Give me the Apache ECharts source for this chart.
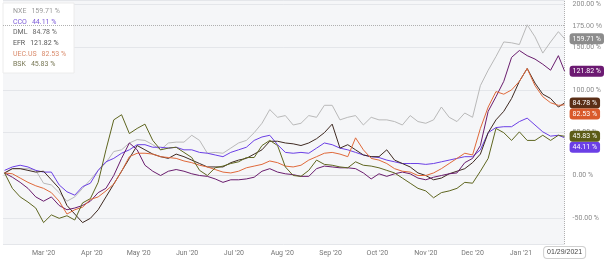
<!DOCTYPE html>
<html><head><meta charset="utf-8">
<script src="https://cdn.jsdelivr.net/npm/echarts@6/dist/echarts.min.js"></script>
<style>html,body{margin:0;padding:0;background:#fff}#c{width:604px;height:263px}</style>
</head><body><div id="c"></div>
<script>
const dates = ['2020-02-05','2020-02-10','2020-02-15','2020-02-20','2020-02-25','2020-03-01','2020-03-06','2020-03-11','2020-03-16','2020-03-21','2020-03-26','2020-03-31','2020-04-05','2020-04-10','2020-04-15','2020-04-20','2020-04-25','2020-04-30','2020-05-05','2020-05-10','2020-05-15','2020-05-20','2020-05-25','2020-05-30','2020-06-04','2020-06-09','2020-06-14','2020-06-19','2020-06-24','2020-06-29','2020-07-04','2020-07-09','2020-07-14','2020-07-19','2020-07-24','2020-07-29','2020-08-03','2020-08-08','2020-08-13','2020-08-18','2020-08-23','2020-08-28','2020-09-02','2020-09-07','2020-09-12','2020-09-17','2020-09-22','2020-09-27','2020-10-02','2020-10-07','2020-10-12','2020-10-17','2020-10-22','2020-10-27','2020-11-01','2020-11-06','2020-11-11','2020-11-16','2020-11-21','2020-11-26','2020-12-01','2020-12-06','2020-12-11','2020-12-16','2020-12-21','2020-12-26','2020-12-31','2021-01-05','2021-01-10','2021-01-15','2021-01-20','2021-01-25','2021-01-29'];
const NXE = [3,8,8,8,6,-9,-11,-20,-30,-25,-15,-5,6,15,28,30,38,42,41,36,30,38,39,39,47,41,26,27,26,32,38,41,50,61,77,68,70,59,61,70,68,82,82,65,68,70,59,68,65,65,63,59,70,63,61,65,80,68,63,73,68,105,123,139,156,155,153,176,162,143,156,168,159.71];
const CCO = [6,10,12,10,6,4,4,-11,-19,-23,-13,-9,6,16,20,26,30,36,36,33,33,32,33,30,30,27,26,24,22,27,30,33,41,45,47,36,27,26,27,26,32,38,36,32,30,27,24,22,21,18,16,14,14,14,13,14,16,18,20,22,22,30,50,56,57,57,63,67,59,51,46,47,44.11];
const DML = [3,8,8,6,4,5,-5,-15,-35,-45,-55,-50,-40,-25,-10,5,20,35,30,25,22,20,25,22,18,14,10,10,10,15,18,20,25,30,40,40,38,37,35,38,43,50,60,32,36,30,24,22,22,30,18,14,10,3,0,-5,-3,2,5,8,15,25,50,65,75,90,110,125,108,95,90,80,84.78];
const EFR = [3,-2,-8,-15,-25,-30,-25,-35,-40,-38,-35,-30,-20,-15,0,20,38,30,12,5,0,5,7,5,2,0,-1,-4,-8,-5,-5,-4,-2,5,8,4,2,1,-1,-1,8,11,10,9,9,8,3,-4,2,-1,2,4,2,-3,-5,-2,0,2,3,15,20,35,75,92,110,138,146,140,136,130,123,140,121.82];
const UEC = [3,2,-3,-8,-12,-15,-20,-30,-45,-40,-37,-28,-25,-18,-10,5,22,26,26,25,22,21,20,17,15,12,10,7,4,3,5,9,11,13,17,15,11,10,12,18,22,26,27,25,22,44,30,20,18,14,8,5,4,0,0,3,8,14,20,26,24,55,80,98,95,100,110,125,105,92,85,82,82.53];
const BSK = [3,-15,-25,-31,-38,-55,-46,-50,-47,-52,-32,-27,-8,30,65,71,49,55,60,41,30,32,33,27,21,6,0,9,11,14,16,21,21,35,41,35,10,0,-1,6,18,13,12,10,9,16,12,11,9,6,3,-3,-9,-15,-18,-26,-20,-18,-15,-8,-9,5,20,55,50,41,51,41,41,47,41,47,45.83];
const seriesNames = ['NXE','CCO','DML','EFR','UEC.US','BSK'];
const seriesValues = [NXE, CCO, DML, EFR, UEC, BSK];
const lineColors = ['#b9b9b9','#6b3fe6','#3f2a22','#6a1d6e','#e0693a','#5f6620'];
const badgeColors = ['#8c8c8c','#6b3fe6','#5a2e16','#6c1a72','#d95a2b','#5c5c17'];
const legendColors = ['#9a9a9a','#7b5ad8','#666666','#555555','#d98a6a','#777755'];
const monthNames = ['Jan','Feb','Mar','Apr','May','Jun','Jul','Aug','Sep','Oct','Nov','Dec'];
const lastValues = seriesValues.map(a => a[a.length - 1]);

const chart = echarts.init(document.getElementById('c'), null, {renderer: 'canvas'});
const fmtPct = v => v.toFixed(2) + ' %';
const option = {
  animation: false,
  backgroundColor: '#ffffff',
  grid: {left: 3, right: 34, top: 0, bottom: 19, show: true, backgroundColor: '#f5f6f8', borderWidth: 0},
  legend: {
    orient: 'vertical', left: 3, top: 3, icon: 'none', itemWidth: 0, itemHeight: 6, itemGap: 3.6,
    backgroundColor: '#ffffff', borderColor: '#ececec', borderWidth: 1, padding: [5, 8, 5, 5],
    data: seriesNames.map((n, i) => ({name: n, textStyle: {color: legendColors[i]}})),
    formatter: name => {
      const i = seriesNames.indexOf(name);
      return '{n|' + name + '}{v|' + fmtPct(lastValues[i]) + '}';
    },
    textStyle: {fontSize: 7, fontFamily: 'Roboto', rich: {n: {fontSize: 7, padding: [0, 5, 0, 0]}, v: {fontSize: 7}}}
  },
  xAxis: {
    type: 'time', min: '2020-02-04', max: '2021-01-29', splitNumber: 12,
    axisLine: {show: true, lineStyle: {color: '#dcdcdc'}},
    axisTick: {show: false},
    splitLine: {show: false},
    axisLabel: {fontSize: 7, color: '#777', fontFamily: 'Roboto', margin: 6, hideOverlap: false,
      formatter: v => { const d = new Date(v); return monthNames[d.getMonth()] + " '" + String(d.getFullYear()).slice(2); }},
    axisPointer: {show: true, value: new Date('2021-01-29T00:00:00').getTime(), status: 'show', snap: false, triggerTooltip: false,
      lineStyle: {type: 'dotted', color: '#b0b0b0', width: 1},
      label: {show: true, fontSize: 7, color: '#444', backgroundColor: '#ffffff', borderColor: '#cfcfcf', borderWidth: 1, padding: [2, 3], margin: 3,
        formatter: p => { const d = new Date(p.value); return String(d.getMonth()+1).padStart(2,'0') + '/' + String(d.getDate()).padStart(2,'0') + '/' + d.getFullYear(); }}}
  },
  yAxis: {
    type: 'value', position: 'right', min: -80, max: 205, splitNumber: 6,
    axisLine: {show: false}, axisTick: {show: false},
    splitLine: {show: true, lineStyle: {color: '#e4e6ea', width: 1}},
    axisLabel: {fontSize: 7, color: '#8a8a8a', fontFamily: 'Roboto', margin: 8,
      formatter: v => (v % 50 === 0 ? v.toFixed(2) + ' %' : '')},
    axisPointer: {show: true, value: 175, status: 'show', snap: false, triggerTooltip: false,
      lineStyle: {type: 'dotted', color: '#b0b0b0', width: 1},
      label: {show: true, fontSize: 7, color: '#8a8a8a', backgroundColor: 'transparent', padding: [1, 2], margin: 6,
        formatter: p => Number(p.value).toFixed(2) + ' %'}}
  },
  series: seriesNames.map((n, i) => ({
    name: n, type: 'line', showSymbol: false, symbol: 'none',
    data: dates.map((d, k) => [d, seriesValues[i][k]]),
    lineStyle: {width: 1, color: lineColors[i]}, itemStyle: {color: lineColors[i]},
    z: i === 0 ? 2 : 3,
    endLabel: {show: true, distance: 5, fontSize: 7, color: '#fff', fontFamily: 'Roboto', backgroundColor: badgeColors[i],
      padding: [2, 3, 2, 3], borderRadius: 3, formatter: p => fmtPct(p.value[1])},
    labelLayout: {moveOverlap: 'shiftY'}
  }))
};
chart.setOption(option);
</script></body></html>
